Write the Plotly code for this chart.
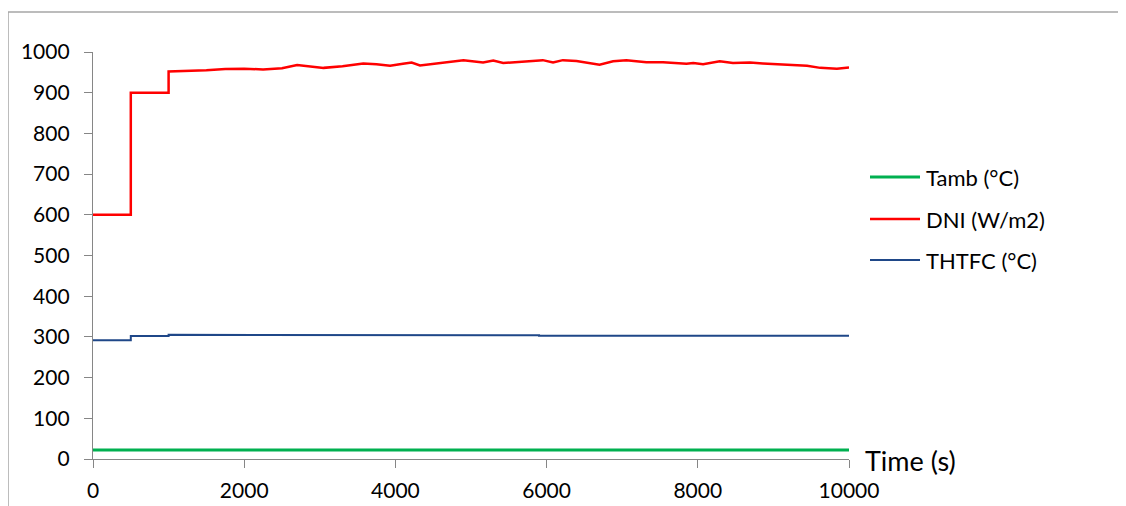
import plotly.graph_objects as go

# ---- data ----
dni_t = [0, 500, 500, 1000, 1000, 1250, 1500, 1750, 2000, 2250, 2500, 2700, 2900, 3050,
         3300, 3575, 3750, 3930, 4100, 4215, 4325, 4600, 4900, 5160, 5295, 5425, 5700,
         5950, 6085, 6215, 6395, 6700, 6880, 7055, 7320, 7540, 7850, 7940, 8070, 8290,
         8465, 8690, 8860, 9180, 9445, 9620, 9840, 10000]
dni_v = [600, 600, 900, 900, 952, 953, 955, 958, 959, 957, 960, 968, 963, 961,
         965, 972, 970, 966, 971, 974, 967, 973, 980, 974, 979, 973, 976,
         980, 974, 980, 978, 969, 977, 980, 975, 975, 971, 973, 970, 977,
         973, 974, 972, 968, 966, 961, 959, 962]

thtfc_t = [0, 500, 500, 1000, 1000, 3100, 3100, 5900, 5900, 10000]
thtfc_v = [292, 292, 302, 302, 305, 305, 304, 304, 303, 303]

tamb_t = [0, 10000]
tamb_v = [22, 22]

y_ticks = [0, 100, 200, 300, 400, 500, 600, 700, 800, 900, 1000]
x_ticks = [0, 2000, 4000, 6000, 8000, 10000]

legend_names = ["Tamb (°C)", "DNI (W/m2)", "THTFC (°C)"]
legend_colors = ["#00B050", "#FF0000", "#1F4788"]
legend_widths = [3, 2.5, 2]

FONT = "Lato, Carlito, 'Liberation Sans', sans-serif"

fig = go.Figure()
fig.add_trace(go.Scatter(x=tamb_t, y=tamb_v, mode="lines", name=legend_names[0],
                         line=dict(color=legend_colors[0], width=legend_widths[0]),
                         showlegend=False))
fig.add_trace(go.Scatter(x=dni_t, y=dni_v, mode="lines", name=legend_names[1],
                         line=dict(color=legend_colors[1], width=legend_widths[1]),
                         showlegend=False))
fig.add_trace(go.Scatter(x=thtfc_t, y=thtfc_v, mode="lines", name=legend_names[2],
                         line=dict(color=legend_colors[2], width=legend_widths[2]),
                         showlegend=False))

# page body has an 8px margin; figure is sized/offset so that the view matches
OFF = 8
W, H = 1126 - OFF, 506 - OFF
L, T = 93 - OFF, 52 - OFF
pw, ph = 756, 407
R = W - L - pw
B = H - T - ph

def px(xp):  # screen x -> paper x
    return (xp - OFF - L) / pw

def py(yp):  # screen y -> paper y
    return (T + ph - (yp - OFF)) / ph

shapes = []
# outer chart-area border (top and left edges visible)
shapes.append(dict(type="line", xref="paper", yref="paper",
                   x0=px(8), x1=px(1126), y0=py(12), y1=py(12),
                   line=dict(color="#A6A6A6", width=1.5), layer="below"))
shapes.append(dict(type="line", xref="paper", yref="paper",
                   x0=px(8), x1=px(8), y0=py(12), y1=py(506),
                   line=dict(color="#A6A6A6", width=1.5), layer="below"))

annotations = []
rows_y = [177, 219, 260]
for name, col, wd, yy in zip(legend_names, legend_colors, legend_widths, rows_y):
    shapes.append(dict(type="line", xref="paper", yref="paper",
                       x0=px(870), x1=px(920), y0=py(yy), y1=py(yy),
                       line=dict(color=col, width=wd)))
    annotations.append(dict(xref="paper", yref="paper", x=px(924), y=py(yy),
                            xanchor="left", yanchor="middle", showarrow=False,
                            text=name, font=dict(family=FONT, size=22, color="#000000")))

annotations.append(dict(xref="paper", yref="paper", x=px(863), y=py(460),
                        xanchor="left", yanchor="middle", showarrow=False,
                        text="Time (s)", font=dict(family=FONT, size=27, color="#000000")))

fig.update_layout(
    width=W, height=H, autosize=False,
    margin=dict(l=L, r=R, t=T, b=B, pad=0, autoexpand=False),
    paper_bgcolor="white", plot_bgcolor="white",
    font=dict(family=FONT, size=21, color="#000000"),
    shapes=shapes, annotations=annotations,
    showlegend=False,
)
fig.update_xaxes(range=[0, 10000], tickvals=x_ticks, ticktext=[str(v) for v in x_ticks],
                 showgrid=False, zeroline=False, showline=True, linecolor="#868686",
                 linewidth=1.3, ticks="outside", ticklen=8, tickcolor="#868686",
                 tickwidth=1.3, ticklabelstandoff=5, automargin=False,
                 tickfont=dict(family=FONT, size=21, color="#000000"))
fig.update_yaxes(range=[0, 1000], tickvals=y_ticks, ticktext=[str(v) for v in y_ticks],
                 showgrid=False, zeroline=False, showline=True, linecolor="#868686",
                 linewidth=1.3, ticks="outside", ticklen=8, tickcolor="#868686",
                 tickwidth=1.3, ticklabelstandoff=10, automargin=False,
                 tickfont=dict(family=FONT, size=21, color="#000000"))

fig.write_html("out.html")
